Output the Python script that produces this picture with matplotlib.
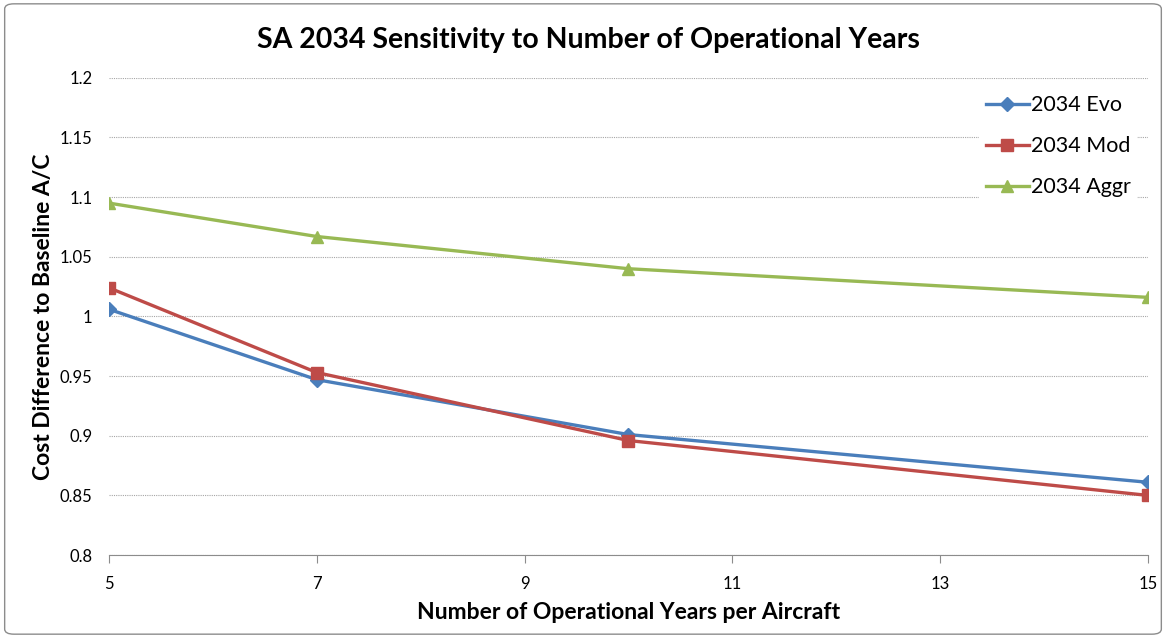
import matplotlib
matplotlib.use("Agg")
import matplotlib.pyplot as plt
from matplotlib.patches import FancyBboxPatch

plt.rcParams['font.family'] = ['Lato', 'DejaVu Sans']

years = [5, 7, 10, 15]
evo = [1.006, 0.947, 0.901, 0.861]
mod = [1.024, 0.953, 0.896, 0.850]
aggr = [1.095, 1.067, 1.040, 1.016]
series_names = ["2034 Evo", "2034 Mod", "2034 Aggr"]
x_ticks = [5, 7, 9, 11, 13, 15]
y_ticks = [0.8, 0.85, 0.9, 0.95, 1.0, 1.05, 1.1, 1.15, 1.2]
y_tick_labels = ["0.8", "0.85", "0.9", "0.95", "1", "1.05", "1.1", "1.15", "1.2"]

fig = plt.figure(figsize=(11.66, 6.38), dpi=100)
ax = fig.add_axes([0.0935, 0.130, 0.891, 0.748])

# outer chart border
border = FancyBboxPatch((0.004, 0.006), 0.992, 0.988, boxstyle="round,pad=0,rounding_size=0.008",
                        transform=fig.transFigure, fill=False, edgecolor="#8c8c8c", linewidth=1.0)
fig.patches.append(border)

ax.plot(years, evo, color="#4A7EBB", lw=2.4, marker="D", ms=7, label=series_names[0], zorder=3)
ax.plot(years, mod, color="#BE4B48", lw=2.4, marker="s", ms=8, label=series_names[1], zorder=3)
ax.plot(years, aggr, color="#98B954", lw=2.4, marker="^", ms=9, label=series_names[2], zorder=3)

ax.set_xlim(5, 15)
ax.set_ylim(0.8, 1.2)
ax.set_xticks(x_ticks)
ax.set_xticklabels([str(t) for t in x_ticks])
ax.set_yticks(y_ticks)
ax.set_yticklabels(y_tick_labels)
ax.grid(axis="y", color="#a6a6a6", linestyle=(0, (1, 1)), linewidth=0.8, zorder=0)
for s in ["top", "right", "left"]:
    ax.spines[s].set_visible(False)
ax.spines["bottom"].set_color("#8c8c8c")
ax.tick_params(axis="y", length=0, pad=12, labelsize=12)
ax.tick_params(axis="x", direction="out", length=6, color="#8c8c8c", pad=9, labelsize=12)

ax.set_xlabel("Number of Operational Years per Aircraft", fontsize=16.5, fontweight="bold", labelpad=7)
ax.set_ylabel("Cost Difference to Baseline A/C", fontsize=16.5, fontweight="bold", labelpad=4)
fig.text(0.505, 0.937, "SA 2034 Sensitivity to Number of Operational Years", ha="center", va="center",
         fontsize=20.5, fontweight="bold")

leg = ax.legend(loc="upper right", bbox_to_anchor=(1.0, 1.0), frameon=True, fontsize=15.5,
                handlelength=2.0, handletextpad=0.1, labelspacing=0.98, borderpad=0.3)
leg.get_frame().set_edgecolor("none")
leg.get_frame().set_facecolor("white")
leg.get_frame().set_alpha(1.0)

fig.savefig("out.png", dpi=100)
